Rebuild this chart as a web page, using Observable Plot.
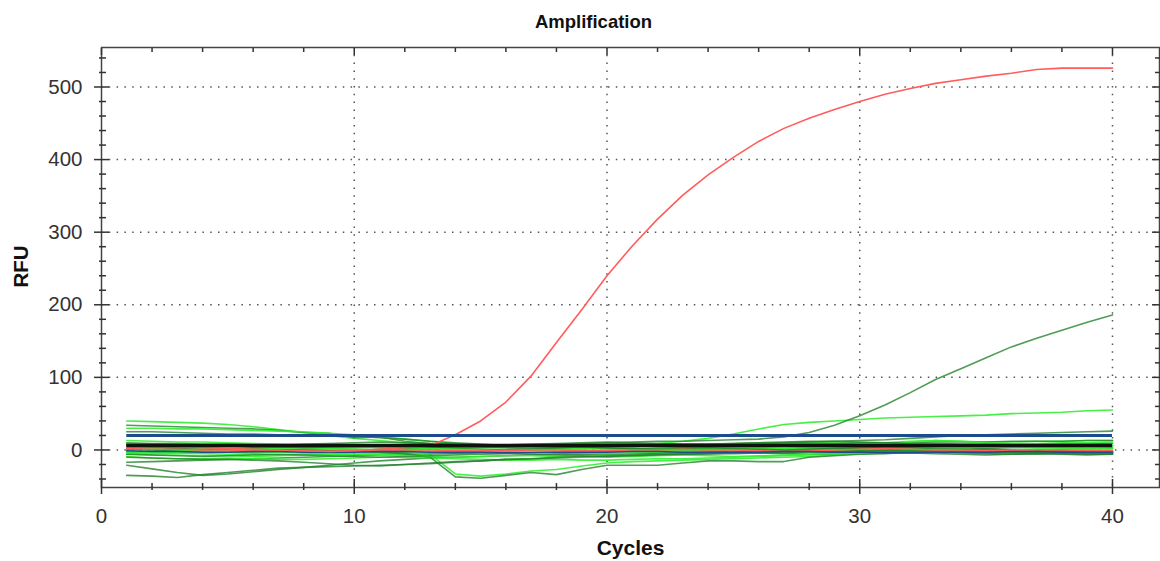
<!DOCTYPE html>
<html><head><meta charset="utf-8">
<script src="https://cdn.jsdelivr.net/npm/d3@7"></script>
<script src="https://cdn.jsdelivr.net/npm/@observablehq/plot@0.6"></script>
<style>body{margin:0;background:#fff;} svg{display:block;}</style>
</head><body><div id="chart"></div>
<script>
const cycles = [1,2,3,4,5,6,7,8,9,10,11,12,13,14,15,16,17,18,19,20,21,22,23,24,25,26,27,28,29,30,31,32,33,34,35,36,37,38,39,40];
const xTicks = [0,10,20,30,40];
const xMinorTicks = [2,4,6,8,12,14,16,18,22,24,26,28,32,34,36,38];
const yTicks = [0,100,200,300,400,500];
const yMinorTicks = [-40,-20,20,40,60,80,120,140,160,180,220,240,260,280,320,340,360,380,420,440,460,480,520,540];

// light green traces
const L1 = [40,39,38,37,35,32,28,24,20,16,13,10,8,7,6,6,5,5,6,6,5,4,5,6,7,8,10,11,10,9,10,12,13,12,11,11,12,12,13,13];
const L2 = [30,30,29,29,28,27,26,25,23,21,18,15,12,9,7,5,4,3,3,2,2,1,1,2,3,3,2,2,1,1,2,2,3,3,4,4,3,3,4,4];
const L3 = [13,12,11,11,10,9,8,6,5,4,3,2,2,1,1,0,0,1,1,2,2,1,0,0,1,2,2,3,3,2,2,3,4,4,5,5,5,6,6,6];
const L4 = [-6,-7,-7,-8,-8,-9,-8,-7,-6,-6,-5,-5,-6,-33,-36,-33,-29,-27,-22,-18,-16,-15,-14,-13,-12,-11,-10,-9,-7,-5,-4,-3,-2,-1,0,0,1,1,2,2];
const L5 = [-9,-11,-12,-12,-11,-12,-13,-13,-12,-11,-10,-10,-11,-12,-13,-14,-14,-13,-14,-14,-13,-12,-12,-11,-10,-9,-8,-7,-6,-5,-4,-4,-3,-3,-2,-2,-1,-1,0,0];
const L6 = [-2,-3,-3,-2,-1,-1,0,0,1,1,0,0,1,2,3,3,4,5,5,6,7,9,12,16,22,29,35,38,40,42,44,45,46,47,48,50,51,52,54,55];
const L7 = [3,2,0,-1,-2,-1,0,1,2,1,0,-1,-2,-3,-2,-1,0,1,2,1,0,-1,0,1,2,3,2,1,0,-1,-2,-1,0,1,0,-1,-2,-1,0,-1];
const L8 = [-4,-5,-4,-3,-3,-2,-3,-4,-5,-6,-6,-5,-4,-3,-2,-1,-2,-3,-4,-5,-4,-3,-2,-1,0,1,2,3,4,5,7,11,13,12,10,9,9,10,10,11];
const L9 = [-2,-3,-4,-5,-6,-6,-7,-6,-5,-6,-7,-8,-9,-10,-9,-8,-8,-9,-10,-10,-9,-8,-7,-8,-9,-8,-7,-6,-5,-4,-3,-2,-2,-1,-1,0,1,1,2,2];
const L10 = [5,4,4,3,2,1,2,3,3,4,4,3,2,1,0,-1,-1,-2,-2,-1,0,1,2,3,3,2,1,0,0,1,2,3,4,5,5,4,4,5,5,6];

// dark green traces
const D1 = [34,33,32,31,30,29,27,24,23,17,18,12,9,8,7,7,6,6,7,8,9,9,8,8,9,10,10,11,12,13,14,16,18,20,21,22,23,24,25,26];
const D2 = [25,25,24,23,22,22,21,21,20,19,17,15,12,10,8,6,5,4,4,5,5,6,6,7,7,8,8,9,9,10,10,10,11,11,11,12,12,12,13,13];
const D3 = [2,3,2,1,2,3,4,3,2,3,4,5,4,3,4,5,6,5,4,5,6,5,4,3,4,5,6,5,4,3,4,5,4,3,2,3,4,3,2,3];
const D4 = [-17,-16,-15,-14,-13,-12,-11,-10,-9,-8,-7,-6,-5,-5,-4,-4,-3,-3,-2,-2,-1,-1,0,0,1,1,0,0,-1,-1,-2,-2,-3,-3,-4,-4,-5,-5,-6,-6];
const D5 = [-21,-26,-31,-35,-33,-30,-27,-24,-21,-18,-15,-13,-11,-10,-9,-8,-7,-6,-6,-5,-5,-4,-4,-3,-3,-2,-2,-1,-1,0,0,-1,-1,-2,-2,-3,-3,-4,-4,-5];
const D6 = [-35,-36,-38,-34,-31,-28,-25,-24,-23,-22,-21,-20,-19,-17,-15,-13,-12,-11,-10,-9,-8,-7,-6,-5,-4,-3,-3,-2,-2,-1,-1,0,0,1,1,0,0,-1,-1,-2];
const D7 = [-3,-2,-1,-2,-3,-4,-3,-2,-1,-2,-3,-4,-5,-4,-3,-2,-3,-4,-5,-6,-5,-4,-3,-2,-3,-4,-5,-6,-5,-4,-3,-4,-5,-6,-7,-6,-5,-6,-7,-6];
const D8 = [8,8,7,7,6,6,5,5,6,7,7,6,5,5,5,6,7,8,9,10,11,12,12,13,14,15,18,24,34,47,62,79,97,112,127,142,154,165,176,186];
const D9 = [5,4,3,3,2,2,1,0,-1,-2,-3,-5,-10,-37,-39,-35,-31,-34,-27,-21,-21,-21,-18,-15,-15,-16,-16,-10,-8,-6,-5,-3,-2,-1,-1,0,0,-1,-1,-2];
const D10 = [10,9,9,8,8,7,7,8,9,10,11,10,9,8,7,7,8,9,10,11,10,9,8,8,9,10,11,12,12,11,10,9,9,8,8,7,7,8,8,9];
const D11 = [-6,-7,-8,-9,-8,-7,-6,-7,-8,-9,-10,-9,-8,-7,-6,-5,-6,-7,-8,-9,-8,-7,-6,-5,-4,-4,-3,-2,-2,-1,-1,-2,-3,-4,-5,-6,-5,-4,-5,-6];
const D12 = [-10,-11,-12,-13,-13,-14,-15,-17,-19,-21,-22,-20,-18,-16,-15,-13,-12,-10,-9,-8,-7,-6,-6,-5,-5,-4,-4,-3,-3,-2,-2,-1,-1,-2,-2,-3,-3,-2,-2,-3];
const D13 = [1,0,-1,0,1,2,1,0,-1,0,1,2,3,2,1,0,1,2,3,2,1,2,3,4,3,2,1,2,3,2,1,0,-1,0,1,0,-1,-2,-3,-4];
const D14 = [6,5,4,5,6,5,4,3,4,5,6,7,6,5,4,3,2,3,4,3,2,1,2,3,2,1,0,1,2,3,4,3,2,1,0,-1,-2,-1,-2,-3];

// red traces
const R1 = [5,5,4,3,2,1,0,-1,-2,-1,1,3,6,21,40,66,102,148,193,240,281,318,351,379,403,425,443,457,469,480,490,498,505,510,515,519,524,526,526,526];
const R2 = [2,1,1,0,0,-1,-1,-2,-2,-1,-1,0,0,-1,-1,-1,0,0,-1,-1,0,0,1,0,0,-1,-2,-1,0,1,2,1,0,0,-1,-1,0,0,-1,-1];
// blue data trace
const B1 = [-1,-2,-2,-3,-3,-2,-2,-3,-3,-3,-2,-2,-3,-3,-3,-4,-4,-3,-3,-3,-2,-2,-3,-3,-3,-3,-2,-2,-3,-3,-4,-4,-3,-3,-3,-2,-2,-3,-3,-3];
// threshold / baseline lines
const thresholdBlue = [20];
const baselineBlack = [6];

const lightGreens = [L1,L2,L3,L4,L5,L6,L7,L8,L9,L10];
const darkGreens = [D1,D2,D3,D4,D5,D6,D7,D8,D9,D10,D11,D12,D13,D14];

const LIGHT = "#33ee33", DARK = "#23832c", RED = "#ff5c5c", BLUE = "#1d4c8c";
const toPts = v => cycles.map((c, i) => [c, v[i]]);

const traceMarks = [];
const order = [D3, L1, D1, L2, D2, L3, D4, L4, D5, L5, D6, L6, D13, D7, L7, D8, L8, D9, L9, D10, L10, D14, D11, D12];
for (const v of order) {
  const light = lightGreens.includes(v);
  traceMarks.push(Plot.line(toPts(v), {stroke: light ? LIGHT : DARK, strokeWidth: 1.6, strokeOpacity: light ? 0.9 : 0.8}));
}

const font = "'Liberation Sans', Arial, Helvetica, sans-serif";

const chart = Plot.plot({
  width: 1160,
  height: 561,
  marginLeft: 101,
  marginRight: 1,
  marginTop: 47,
  marginBottom: 74,
  style: {fontFamily: font, background: "#fff", overflow: "visible"},
  x: {domain: [0, 41.86]},
  y: {domain: [-51.7, 554.4]},
  marks: [
    Plot.ruleX(xTicks.filter(d => d > 0), {stroke: "#555", strokeWidth: 1.5, strokeDasharray: "1.5,6.3"}),
    Plot.ruleY(yTicks, {stroke: "#555", strokeWidth: 1.5, strokeDasharray: "1.5,6.3"}),
    ...traceMarks,
    Plot.line(toPts(R2), {stroke: RED, strokeWidth: 1.5}),
    Plot.line(toPts(B1), {stroke: BLUE, strokeWidth: 1.5}),
    Plot.line(toPts(R1), {stroke: RED, strokeWidth: 1.6}),
    Plot.ruleY(thresholdBlue, {x1: 1, x2: 40, stroke: BLUE, strokeWidth: 3}),
    Plot.ruleY(baselineBlack, {x1: 1, x2: 40, stroke: "#0c140c", strokeWidth: 3.5}),
    Plot.frame({stroke: "#444", strokeWidth: 1.5}),
    // left ticks
    Plot.axisY(yTicks, {anchor: "left", tickSize: 15, dx: 8, fill: "none", stroke: "#333", strokeWidth: 1.5, label: null}),
    Plot.axisY(yMinorTicks, {anchor: "left", tickSize: 7, dx: 5, fill: "none", stroke: "#333", strokeWidth: 1.5, label: null}),
    // right ticks
    Plot.axisY(yTicks, {anchor: "right", tickSize: 8, dx: -8, fill: "none", stroke: "#333", strokeWidth: 1.5, label: null}),
    Plot.axisY(yMinorTicks, {anchor: "right", tickSize: 5, dx: -5, fill: "none", stroke: "#333", strokeWidth: 1.5, label: null}),
    // bottom ticks
    Plot.axisX(xTicks, {anchor: "bottom", tickSize: 15, dy: -8, fill: "none", stroke: "#333", strokeWidth: 1.5, label: null}),
    Plot.axisX(xMinorTicks, {anchor: "bottom", tickSize: 7, dy: -4, fill: "none", stroke: "#333", strokeWidth: 1.5, label: null}),
    // top ticks
    Plot.axisX(xTicks, {anchor: "top", tickSize: 7, dy: 7, fill: "none", stroke: "#333", strokeWidth: 1.5, label: null}),
    Plot.axisX(xMinorTicks, {anchor: "top", tickSize: 4, dy: 4, fill: "none", stroke: "#333", strokeWidth: 1.5, label: null}),
    // tick labels
    Plot.axisY(yTicks, {anchor: "left", tickSize: 0, tickPadding: 19, fontSize: 20.5, fill: "#333", stroke: "none", label: null}),
    Plot.axisX(xTicks, {anchor: "bottom", tickSize: 0, tickPadding: 21, fontSize: 20.5, fill: "#333", stroke: "none", label: null}),
    // titles
    Plot.text(["Amplification"], {text: d => d, frameAnchor: "top", dx: -37, dy: -33, fontSize: 18.5, fontWeight: "bold", fill: "#111"}),
    Plot.text(["Cycles"], {text: d => d, frameAnchor: "bottom", dy: 67, fontSize: 21, fontWeight: "bold", fill: "#111"}),
    Plot.text(["RFU"], {text: d => d, frameAnchor: "left", dx: -80, dy: 20, rotate: -90, fontSize: 20.5, fontWeight: "bold", fill: "#111"})
  ]
});
document.getElementById("chart").appendChild(chart);
</script>
</body></html>
